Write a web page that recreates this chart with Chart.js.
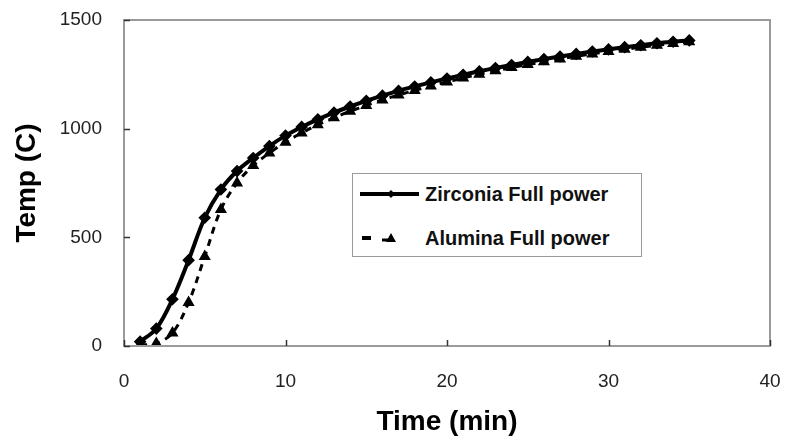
<!DOCTYPE html>
<html>
<head>
<meta charset="utf-8">
<script src="https://cdn.jsdelivr.net/npm/chart.js@4/dist/chart.umd.min.js"></script>
<style>
  html, body { margin: 0; padding: 0; background: #fff; }
  #wrap { position: relative; width: 785px; height: 443px; }
  #legend {
    position: absolute; left: 352px; top: 173px; width: 290px; height: 84px;
    border: 1.5px solid #9a9a9a; background: #fff; box-sizing: border-box;
    font-family: "Liberation Sans", Arial, sans-serif; font-weight: bold; font-size: 20px; color: #111;
  }
  .row { position: absolute; left: 0; height: 30px; display: flex; align-items: center; }
  .row svg { display: block; }
  .row span { position: absolute; left: 72px; white-space: nowrap; }
</style>
</head>
<body>
<div id="wrap">
  <canvas id="c" width="785" height="443"></canvas>
  <div id="legend">
    <div class="row" style="top:5px;">
      <svg width="70" height="30"><line x1="7" y1="15" x2="66" y2="15" stroke="#000" stroke-width="4"/><polygon points="38,11 42,15 38,19 34,15" fill="#000"/></svg>
      <span id="l1"></span>
    </div>
    <div class="row" style="top:49px;">
      <svg width="70" height="30"><line x1="9" y1="15" x2="18" y2="15" stroke="#000" stroke-width="4"/><polygon points="38,10 43,19 33,19" fill="#000"/><line x1="29" y1="17" x2="36" y2="17" stroke="#000" stroke-width="3"/></svg>
      <span id="l2"></span>
    </div>
  </div>
</div>
<script>
const timeMin = [1,2,3,4,5,6,7,8,9,10,11,12,13,14,15,16,17,18,19,20,21,22,23,24,25,26,27,28,29,30,31,32,33,34,35];
const zirconia = [20,80,215,395,590,720,805,865,920,968,1008,1043,1074,1102,1128,1152,1174,1194,1213,1231,1248,1264,1279,1293,1307,1320,1332,1344,1355,1365,1375,1384,1393,1400,1406];
const alumina = [5,12,60,200,412,628,750,830,888,938,980,1018,1050,1080,1107,1132,1155,1176,1196,1215,1233,1250,1266,1281,1295,1308,1321,1333,1344,1355,1365,1375,1384,1392,1400];
const seriesNames = ["Zirconia Full power", "Alumina Full power"];
const xTitle = "Time (min)";
const yTitle = "Temp (C)";

document.getElementById('l1').textContent = seriesNames[0];
document.getElementById('l2').textContent = seriesNames[1];

const toPts = (ys) => timeMin.map((t, i) => ({x: t, y: ys[i]}));

const frame = {
  id: 'frame',
  afterDatasetsDraw(chart) {
    const a = chart.chartArea, ctx = chart.ctx;
    ctx.save();
    ctx.strokeStyle = '#9a9a9a';
    ctx.lineWidth = 2;
    ctx.strokeRect(a.left, a.top, a.right - a.left, a.bottom - a.top);
    ctx.strokeStyle = '#333';
    ctx.lineWidth = 1.5;
    const xs = chart.scales.x, ys = chart.scales.y;
    xs.ticks.forEach(t => {
      const px = Math.round(xs.getPixelForValue(t.value)) + 0.5;
      ctx.beginPath(); ctx.moveTo(px, a.bottom); ctx.lineTo(px, a.bottom - 6); ctx.stroke();
    });
    ys.ticks.forEach(t => {
      const py = Math.round(ys.getPixelForValue(t.value)) + 0.5;
      ctx.beginPath(); ctx.moveTo(a.left, py); ctx.lineTo(a.left + 6, py); ctx.stroke();
    });
    ctx.restore();
  }
};

function noPad(s) { s.paddingTop = 0; s.paddingBottom = 0; s.paddingLeft = 0; s.paddingRight = 0; }

new Chart(document.getElementById('c'), {
  type: 'line',
  data: {
    datasets: [
      {
        label: seriesNames[1], data: toPts(alumina),
        borderColor: '#000', backgroundColor: '#000', borderWidth: 3,
        borderDash: [7, 6], pointStyle: 'triangle', pointRadius: 4, tension: 0.35
      },
      {
        label: seriesNames[0], data: toPts(zirconia),
        borderColor: '#000', backgroundColor: '#000', borderWidth: 4,
        pointStyle: 'rectRot', pointRadius: 3.5, tension: 0.35
      }
    ]
  },
  options: {
    responsive: false, animation: false,
    layout: { padding: { left: 0, right: 15, top: 20, bottom: 0 } },
    plugins: { legend: { display: false }, tooltip: { enabled: false } },
    scales: {
      x: {
        type: 'linear', min: 0, max: 40,
        ticks: { stepSize: 10, color: '#222', font: { family: 'Liberation Sans', size: 19 }, padding: 24, maxRotation: 0 },
        grid: { display: false, drawTicks: false },
        border: { display: false },
        title: { display: true, text: xTitle, color: '#000', font: { family: 'Liberation Sans', size: 28, weight: 'bold' }, padding: { top: 0, bottom: 4 } },
        afterFit(s) { s.height = 97; noPad(s); }
      },
      y: {
        min: 0, max: 1500,
        ticks: { stepSize: 500, color: '#222', font: { family: 'Liberation Sans', size: 19 }, padding: 22, callback: (v) => String(v) },
        grid: { display: false, drawTicks: false },
        border: { display: false },
        title: { display: true, text: yTitle, color: '#000', font: { family: 'Liberation Sans', size: 28, weight: 'bold' }, padding: { top: 10, bottom: 0 } },
        afterFit(s) { s.width = 124; noPad(s); }
      }
    }
  },
  plugins: [frame]
});
</script>
</body>
</html>
